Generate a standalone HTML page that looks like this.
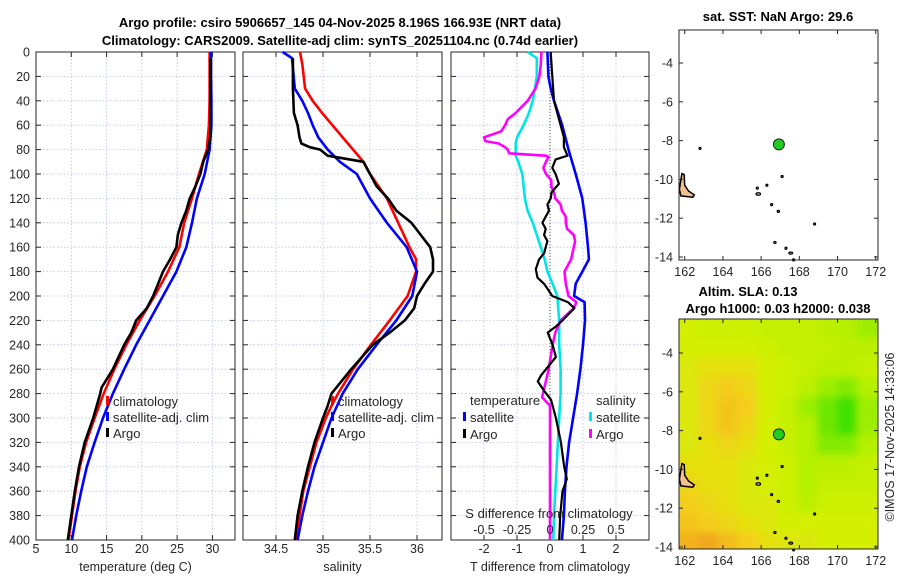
<!DOCTYPE html>
<html><head><meta charset="utf-8"><style>
body{margin:0;background:#fff;}
svg{display:block;font-family:"Liberation Sans","DejaVu Sans",sans-serif;}
</style></head><body>
<svg id="fig" width="900" height="580" viewBox="0 0 900 580">
<defs>
<clipPath id="clipMap2"><rect x="679" y="319" width="199" height="230"/></clipPath>
<filter id="blur" x="-5%" y="-5%" width="110%" height="110%"><feGaussianBlur stdDeviation="4"/></filter>
</defs>
<text x="340" y="27" text-anchor="middle" font-size="13" font-weight="bold" fill="#000">Argo profile: csiro 5906657_145 04-Nov-2025 8.196S 166.93E (NRT data)</text>
<text x="340" y="45" text-anchor="middle" font-size="13" font-weight="bold" fill="#000">Climatology: CARS2009. Satellite-adj clim: synTS_20251104.nc (0.74d earlier)</text>
<g id="layer"></g>
</svg>
<script>
// ---------- data ----------
const depthTicks = [0,20,40,60,80,100,120,140,160,180,200,220,240,260,280,300,320,340,360,380,400];
const tempTicks = [5,10,15,20,25,30];
const salTicks = [34.5,35,35.5,36];
const salTickLabels = ["34.5","35","35.5","36"];
const tdiffTicks = [-2,-1,0,1,2];
const sdiffTicks = [-0.5,-0.25,0,0.25,0.5];
const sdiffTickLabels = ["-0.5","-0.25","0","0.25","0.5"];

const climTempDepth = [0,20,40,60,80,100,120,140,160,180,200,220,240,260,280,300,320,340,360,380,400];
const climTemp = [29.6,29.6,29.6,29.5,29.2,28.1,27.1,26.0,25.3,23.7,21.8,19.7,17.8,16.1,14.6,13.3,12.1,11.2,10.6,10.1,9.6];
const satTemp = [29.8,29.8,29.85,29.85,29.6,28.9,27.8,27.1,26.3,24.9,23.0,21.1,19.2,17.5,15.9,14.5,13.3,12.2,11.4,10.7,10.1];
const argoTempDepth = [5,30,70,80,90,100,110,120,130,140,150,160,170,180,190,200,210,220,230,240,260,275,280,290,300,320,340,360,380,400];
const argoTemp = [29.7,29.7,29.7,29.4,28.7,28.3,27.6,26.8,26.3,25.6,25.1,24.9,24.0,23.0,22.3,21.6,20.7,19.2,18.5,17.5,15.9,14.3,14.1,13.6,13.1,11.9,11.1,10.5,10.0,9.5];

const climSalDepth = [0,10,30,40,50,60,70,80,90,100,120,140,160,170,180,200,220,240,260,280,290,300,320,340,360,380,400];
const climSal = [34.755,34.78,34.81,34.89,34.99,35.10,35.21,35.32,35.43,35.50,35.68,35.80,35.92,35.99,35.99,35.90,35.71,35.51,35.32,35.16,35.09,35.03,34.93,34.86,34.79,34.75,34.71];
const satSalDepth = [0,5,30,40,50,60,70,80,90,100,120,140,160,180,200,220,240,260,280,300,320,340,360,380,400];
const satSal = [34.57,34.67,34.70,34.78,34.84,34.89,34.95,35.05,35.18,35.36,35.50,35.68,35.89,36.0,35.95,35.78,35.57,35.37,35.21,35.09,35.0,34.91,34.84,34.78,34.73];
const argoSalDepth = [5,30,50,60,70,75,78,80,85,90,100,110,120,130,140,150,160,170,180,190,200,210,220,230,240,260,280,290,300,320,340,360,380,400];
const argoSal = [34.68,34.68,34.69,34.73,34.75,34.77,34.86,34.97,35.05,35.43,35.50,35.57,35.69,35.78,35.94,36.04,36.14,36.17,36.17,36.08,36.0,35.97,35.87,35.71,35.53,35.30,35.09,35.05,35.0,34.91,34.84,34.78,34.73,34.70];

const dSatTDepth = [0,20,30,40,60,80,100,120,140,160,170,180,190,200,205,220,240,260,280,300,320,340,360,380,400];
const dSatT = [-0.08,-0.05,0.02,0.12,0.37,0.56,0.78,0.98,1.08,1.15,1.18,0.98,0.78,0.73,1.05,1.06,1.0,0.92,0.82,0.7,0.58,0.5,0.45,0.42,0.36];
const dArgoTDepth = [0,20,40,50,60,70,78,85,88,95,100,108,115,120,125,130,135,140,145,150,155,160,165,170,178,185,190,200,205,210,220,225,230,240,250,265,270,278,285,300,320,340,350,360,380,400];
const dArgoT = [0.02,0.07,0.12,0.22,0.32,0.42,0.42,0.53,0.17,0.07,0.17,0.27,0.05,0.02,-0.08,-0.03,-0.13,-0.23,-0.13,-0.18,-0.08,-0.13,-0.18,-0.33,-0.43,-0.38,-0.18,0.07,0.54,0.74,0.38,0.18,-0.07,0.08,0.18,-0.27,-0.37,-0.17,0.03,0.18,0.33,0.43,0.51,0.38,0.31,0.28];
const dSatSDepth = [0,5,20,40,50,60,70,75,85,90,100,120,130,140,160,170,180,190,200,220,240,260,280,300,320,340,360,380,400];
const dSatS = [-0.17,-0.10,-0.10,-0.13,-0.16,-0.20,-0.25,-0.26,-0.26,-0.24,-0.21,-0.19,-0.17,-0.13,-0.07,-0.04,-0.02,0.02,0.055,0.07,0.07,0.08,0.08,0.07,0.06,0.05,0.04,0.03,0.025];
const dArgoSDepth = [0,10,20,30,40,50,55,60,65,70,73,75,78,80,83,85,86,90,95,100,105,110,115,120,125,130,135,140,145,150,155,160,170,180,190,200,205,210,220,230,240,260,283,290,300,340,400];
const dArgoS = [-0.065,-0.07,-0.08,-0.11,-0.17,-0.26,-0.32,-0.34,-0.37,-0.50,-0.49,-0.39,-0.34,-0.32,-0.31,-0.03,-0.01,-0.03,-0.05,-0.03,0.01,0.01,0.03,0.04,0.08,0.09,0.12,0.12,0.13,0.18,0.19,0.18,0.16,0.11,0.12,0.14,0.2,0.18,0.08,0.04,0.02,-0.01,-0.06,0,0,0,0];

const lonTicks = [162,164,166,168,170,172];
const latTicks = [-4,-6,-8,-10,-12,-14];
const argoLon = 166.93, argoLat = -8.196;
const slaLon0 = 161.7, slaLonStep = 1.04, slaLat0 = -2.3, slaLatStep = 1.0;
const slaGrid = [
[.5,.55,.55,.55,.6,.6,.6,.65,.7,.75],
[.5,.5,.5,.5,.55,.6,.6,.6,.65,.65],
[.45,.4,.4,.4,.5,.55,.6,.65,.65,.6],
[.45,.35,.3,.35,.5,.55,.65,.75,.8,.7],
[.45,.35,.25,.3,.5,.6,.75,.85,.95,.75],
[.45,.35,.25,.35,.5,.6,.7,.85,.95,.75],
[.45,.4,.35,.4,.5,.6,.7,.8,.8,.7],
[.4,.4,.4,.45,.5,.55,.7,.65,.65,.6],
[.35,.4,.4,.45,.5,.55,.7,.6,.6,.6],
[.3,.35,.4,.45,.45,.55,.65,.55,.55,.55],
[.25,.3,.35,.4,.45,.5,.5,.5,.5,.5],
[.15,.1,.2,.3,.4,.45,.45,.5,.5,.5]];
const bigIsland = [[161.85,-9.7],[161.97,-9.75],[162.0,-10.3],[162.2,-10.6],[162.5,-10.8],[162.42,-10.92],[161.8,-10.85],[161.72,-10.5]];
const smallIslands = [[165.85,-10.75,0.12],[166.3,-10.3,0.04],[166.55,-11.3,0.05],[166.9,-11.65,0.06],[167.1,-9.85,0.04],[162.8,-8.4,0.02],[168.8,-12.3,0.02],[166.72,-13.25,0.06],[167.55,-13.8,0.1],[167.3,-13.55,0.03],[167.7,-14.15,0.05],[165.8,-10.45,0.02]];

// ---------- helpers ----------
const NS = "http://www.w3.org/2000/svg";
const layer = document.getElementById('layer');
function mk(tag, attrs, parent){ const e=document.createElementNS(NS,tag); for(const k in attrs) e.setAttribute(k,attrs[k]); (parent||layer).appendChild(e); return e; }
function txt(x,y,s,size,anchor,parent){ const t=mk('text',{x:x,y:y,'font-size':size||12,'text-anchor':anchor||'middle',fill:'#262626'},parent); t.textContent=s; return t; }

const Y0=52, Y1=540;
function yDepth(d){ return Y0 + (d/400)*(Y1-Y0); }

function panel(name, x0, x1, dom, xTicks, xLabels, xTitle, showDepth){
  const g=mk('g',{});
  
  
  const sx = v => x0 + (v-dom[0])/(dom[1]-dom[0])*(x1-x0);
  xTicks.forEach(v=>{ mk('line',{x1:sx(v),x2:sx(v),y1:Y0,y2:Y1,stroke:'#b8bfe6','stroke-width':0.8,'stroke-dasharray':'1.5,2'},g); });
  depthTicks.forEach(d=>{ mk('line',{x1:x0,x2:x1,y1:yDepth(d),y2:yDepth(d),stroke:'#b8bfe6','stroke-width':0.8,'stroke-dasharray':'1.5,2'},g); });
  mk('rect',{x:x0,y:Y0,width:x1-x0,height:Y1-Y0,fill:'none',stroke:'#262626','stroke-width':1},g);
  depthTicks.forEach(d=>{ const y=yDepth(d);
    mk('line',{x1:x0,x2:x0+5,y1:y,y2:y,stroke:'#262626'},g); mk('line',{x1:x1,x2:x1-5,y1:y,y2:y,stroke:'#262626'},g);
    if(showDepth){ const t=txt(30,y+4.5,String(d),12.5,'end',g);   }
  });
  xTicks.forEach((v,i)=>{ const x=sx(v);
    mk('line',{x1:x,x2:x,y1:Y1,y2:Y1-5,stroke:'#262626'},g); mk('line',{x1:x,x2:x,y1:Y0,y2:Y0+5,stroke:'#262626'},g);
    if(xLabels){ const t=txt(x,553,xLabels[i],12.5,'middle',g);   }
  });
  const tt=txt((x0+x1)/2,571,xTitle,12.5,'middle',g);
   
  return {g,sx};
}
function series(p, depths, vals, color, name, w){
  const pts = depths.map((d,i)=>p.sx(vals[i]).toFixed(1)+','+yDepth(d).toFixed(1)).join(' ');
  const l=mk('polyline',{points:pts,fill:'none',stroke:color,'stroke-width':w||2.6,'stroke-linejoin':'round'},p.g);
  
  
}
function legendEntry(parent,x,y,color,label,name){
  const g=mk('g',{},parent);
  
  
  mk('rect',{x:x,y:y-10,width:3,height:9,fill:color},g);
  txt(x+7,y,label,13,'start',g);
}

// ---------- panel 1 ----------
const p1 = panel('temperature-panel',36,235,[5,33.2],tempTicks,tempTicks.map(String),'temperature (deg C)',true);
series(p1, climTempDepth, climTemp, '#ff0000','temp-climatology-line');
series(p1, climTempDepth, satTemp, '#0000ff','temp-satellite-line');
series(p1, argoTempDepth, argoTemp, '#000000','temp-argo-line');
legendEntry(p1.g,106,406,'#ff0000','climatology','legend-climatology');
legendEntry(p1.g,106,422,'#0000ff','satellite-adj. clim','legend-satellite');
legendEntry(p1.g,106,438,'#000000','Argo','legend-argo');

// ---------- panel 2 ----------
const p2 = panel('salinity-panel',243,442,[34.149,36.266],salTicks,salTickLabels,'salinity',false);
series(p2, climSalDepth, climSal, '#ff0000','sal-climatology-line');
series(p2, satSalDepth, satSal, '#0000ff','sal-satellite-line');
series(p2, argoSalDepth, argoSal, '#000000','sal-argo-line');
legendEntry(p2.g,331,406,'#ff0000','climatology','legend-climatology');
legendEntry(p2.g,331,422,'#0000ff','satellite-adj. clim','legend-satellite');
legendEntry(p2.g,331,438,'#000000','Argo','legend-argo');

// ---------- panel 3 ----------
const p3 = panel('difference-panel',451,649,[-3,3],tdiffTicks,tdiffTicks.map(String),'T difference from climatology',false);
const p3s = {g:p3.g, sx: v => 451 + (v+0.75)/1.5*198};
mk('line',{x1:p3.sx(0),x2:p3.sx(0),y1:Y0,y2:Y1,stroke:'#555','stroke-width':1,'stroke-dasharray':'1,2'},p3.g);
series(p3s, dSatSDepth, dSatS, '#00e5e5','sdiff-satellite-line');
series(p3, dSatTDepth, dSatT, '#0000ff','tdiff-satellite-line');
series(p3s, dArgoSDepth, dArgoS, '#ff00ff','sdiff-argo-line');
series(p3, dArgoTDepth, dArgoT, '#000000','tdiff-argo-line',2.2);
(function(){
  const t1=txt(470,405,'temperature',13,'start',p3.g);  
  const t2=txt(596,405,'salinity',13,'start',p3.g);  
})();
legendEntry(p3.g,463,422,'#0000ff','satellite','legend-t-satellite');
legendEntry(p3.g,463,439,'#000000','Argo','legend-t-argo');
legendEntry(p3.g,589,422,'#00e5e5','satellite','legend-s-satellite');
legendEntry(p3.g,589,439,'#ff00ff','Argo','legend-s-argo');
(function(){
  const t=txt(549,518,'S difference from climatology',13,'middle',p3.g);
   
  sdiffTicks.forEach((v,i)=>{ const l=txt(p3s.sx(v),534,sdiffTickLabels[i],12.5,'middle',p3.g);
      });
})();

// ---------- maps ----------
const MX0=679, MX1=878;
function mx(lon){ return MX0 + (lon-161.7)*19.1; }
function map(name, top, bottom, lat4y, withSLA){
  const g=mk('g',{});
  
  
  const my = lat => lat4y + (-4-lat)*19.4;
  if(withSLA){
    const hg=mk('g',{'clip-path':'url(#clipMap2)'},g);
    const inner=mk('g',{filter:'url(#blur)'},hg);
    const nr=slaGrid.length, nc=slaGrid[0].length;
    slaGrid.forEach((row,r)=>row.forEach((v,c)=>{
      const pl = c===0?15:1, pr = c===nc-1?15:1, pt = r===0?15:1, pb = r===nr-1?15:1;
      const cell=mk('rect',{x:mx(slaLon0+c*slaLonStep)-pl,y:my(slaLat0-r*slaLatStep)-pt,width:slaLonStep*19.1+pl+pr,height:slaLatStep*19.4+pt+pb,fill:cmap(v)},inner);
      
      
    }));
  }
  const ip=bigIsland.map(p=>mx(p[0]).toFixed(1)+','+my(p[1]).toFixed(1)).join(' ');
  const isl=mk('polygon',{points:ip,fill:'#f5c08e',stroke:'#000','stroke-width':1.5},g);
   
  smallIslands.forEach(s=>{ const e=mk('ellipse',{cx:mx(s[0]),cy:my(s[1]),rx:Math.max(1,s[2]*19),ry:Math.max(1,s[2]*10),fill:'#f5c08e',stroke:'#000','stroke-width':1.2},g);
      });
  mk('rect',{x:MX0,y:top,width:MX1-MX0,height:bottom-top,fill:'none',stroke:'#262626'},g);
  lonTicks.forEach(v=>{ const x=mx(v);
    mk('line',{x1:x,x2:x,y1:bottom,y2:bottom-4,stroke:'#262626'},g); mk('line',{x1:x,x2:x,y1:top,y2:top+4,stroke:'#262626'},g);
    const t=txt(x,bottom+16,String(v),12.5,'middle',g);   });
  latTicks.forEach(v=>{ const y=my(v);
    mk('line',{x1:MX0,x2:MX0+4,y1:y,y2:y,stroke:'#262626'},g); mk('line',{x1:MX1,x2:MX1-4,y1:y,y2:y,stroke:'#262626'},g);
    const t=txt(673,y+4.5,String(v),12.5,'end',g);   });
  const dot=mk('circle',{cx:mx(argoLon),cy:my(argoLat),r:5.5,fill:'#22cc22',stroke:'#222','stroke-width':1},g);
   
  return g;
}
function hex(c){return c.map(v=>Math.round(v).toString(16).padStart(2,'0')).join('');}
function cmap(v){
  const stops=[[0,[240,150,30]],[0.3,[245,205,30]],[0.5,[212,240,0]],[0.7,[180,240,0]],[1,[40,222,0]]];
  for(let i=1;i<stops.length;i++){ if(v<=stops[i][0]){ const a=stops[i-1],b=stops[i],t=(v-a[0])/(b[0]-a[0]);
    return '#'+hex(a[1].map((x,k)=>x+(b[1][k]-x)*t)); } }
  return '#'+hex(stops[stops.length-1][1]);
}
map('sst-map',30,260,63,false);
map('sla-map',319,549,353,true);
(function(){
  const a=mk('text',{x:778,y:21,'font-size':13,'font-weight':'bold','text-anchor':'middle',fill:'#000'}); a.textContent='sat. SST: NaN Argo: 29.6';
   
  const b=mk('text',{x:748,y:296,'font-size':13,'font-weight':'bold','text-anchor':'middle',fill:'#000'}); b.textContent='Altim. SLA: 0.13';
   
  const c=mk('text',{x:778,y:313,'font-size':13,'font-weight':'bold','text-anchor':'middle',fill:'#000'}); c.textContent='Argo h1000: 0.03 h2000: 0.038';
   
  const d=mk('text',{x:0,y:0,'font-size':12.5,'text-anchor':'middle',fill:'#262626',transform:'translate(894,437) rotate(-90)'}); d.textContent='©IMOS 17-Nov-2025 14:33:06';
   
})();
</script>
</body></html>
